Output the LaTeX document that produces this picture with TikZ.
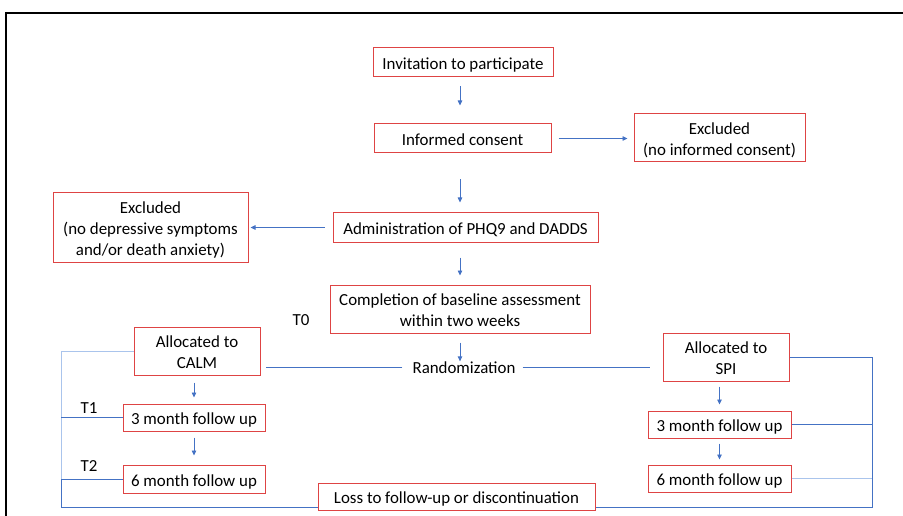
\documentclass[tikz,border=0pt]{standalone}
\usepackage{fontspec}
\setmainfont{Carlito}
\usetikzlibrary{arrows.meta}
\definecolor{boxred}{RGB}{222,68,68}
\definecolor{lnblue}{RGB}{68,114,196}
\definecolor{lnlight}{RGB}{170,196,236}
\newcommand\bx[1]{\raisebox{-3pt}[\height][\depth]{\begin{tabular}{@{}c@{}}#1\end{tabular}}}
\tikzset{
  box/.style={draw=boxred, line width=1pt, inner sep=0pt, font=\fontsize{16.9}{21}\selectfont},
  lbl/.style={inner sep=0pt, font=\fontsize{16.9}{21}\selectfont},
  arr/.style={draw=lnblue, line width=0.8pt, -{Triangle[length=5pt,width=4.5pt]}},
  blu/.style={draw=lnblue, line width=1pt},
  lblu/.style={draw=lnlight, line width=1pt}
}
\begin{document}
\begin{tikzpicture}[x=1pt,y=-1pt]
\useasboundingbox (0,0) rectangle (903,516);
\draw[line width=2pt] (6,13) -- (903,13);
\draw[line width=2pt] (6,12) -- (6,516);

\node[box, minimum width=180, minimum height=29] (inv) at (463,62.5) {\bx{Invitation to participate}};
\node[box, minimum width=177, minimum height=29] (ic) at (462.5,138.5) {\bx{Informed consent}};
\node[box, minimum width=171, minimum height=48] (exc1) at (719.5,138) {\bx{Excluded\\(no informed consent)}};
\node[box, minimum width=195, minimum height=69] (exc2) at (150.5,227.5) {\bx{Excluded\\(no depressive symptoms\\and/or death anxiety)}};
\node[box, minimum width=265, minimum height=29] (adm) at (465.5,227.5) {\bx{Administration of PHQ9 and DADDS}};
\node[box, minimum width=260, minimum height=48] (comp) at (460,309) {\bx{Completion of baseline assessment\\within two weeks}};
\node[lbl] (t0) at (301,320) {T0};
\node[box, minimum width=126, minimum height=48] (calm) at (197,351) {\bx{Allocated to\\CALM}};
\node[lbl] (rand) at (464,367.5) {Randomization};
\node[box, minimum width=126, minimum height=48] (spi) at (726,357) {\bx{Allocated to\\SPI}};
\node[box, minimum width=142, minimum height=27] (fu3a) at (194,417.5) {\bx{3 month follow up}};
\node[lbl] (t1) at (89,408) {T1};
\node[box, minimum width=142, minimum height=28] (fu6a) at (194,479) {\bx{6 month follow up}};
\node[lbl] (t2) at (89,466) {T2};
\node[box, minimum width=143, minimum height=27] (fu3b) at (719.5,424.5) {\bx{3 month follow up}};
\node[box, minimum width=143, minimum height=27] (fu6b) at (719.5,478.5) {\bx{6 month follow up}};
\node[box, minimum width=277, minimum height=27] (loss) at (456.5,496.5) {\bx{Loss to follow-up or discontinuation}};

\coordinate (lb) at (61,507);
\coordinate (rb) at (872,507);

\draw[arr, shorten <=9pt, shorten >=18pt] (inv.south -| comp) -- (ic.north -| comp);
\draw[arr, shorten <=26pt, shorten >=10pt] (ic.south -| comp) -- (adm.north -| comp);
\draw[arr, shorten <=7pt, shorten >=6pt] (ic.east) -- (ic.east -| exc1.west);
\draw[arr, shorten <=8pt, shorten >=2pt] (adm.west) -- (adm.west -| exc2.east);
\draw[arr, shorten <=15pt, shorten >=9pt] (adm.south -| comp) -- (comp.north);
\draw[arr, shorten <=9pt] (comp.south) -- (comp.south |- rand.north);
\draw[arr, shorten <=7pt, shorten >=6pt] (calm.south -| fu3a) -- (fu3a.north);
\draw[arr, shorten <=6pt, shorten >=9pt] (fu3a.south) -- (fu6a.north);
\draw[arr, shorten <=5pt, shorten >=6pt] (spi.south -| fu3b) -- (fu3b.north);
\draw[arr, shorten <=5pt, shorten >=5pt] (fu3b.south) -- (fu6b.north);

\draw[blu, shorten <=10pt, shorten >=5pt] (rand.west) -- (rand.west -| calm.east);
\draw[blu, shorten <=7pt, shorten >=13pt] (rand.east) -- (rand.east -| spi.west);

\draw[lblu] (calm.west) -- (calm.west -| lb) -- (fu6a.west -| lb);
\draw[blu] (fu3a.west) -- (fu3a.west -| lb);
\draw[blu] (fu6a.west) -- (fu6a.west -| lb) -- (lb) -- (lb -| loss.west);

\draw[blu] (spi.east) -- (spi.east -| rb) -- (rb) -- (rb -| loss.east);
\draw[blu] (fu3b.east) -- (fu3b.east -| rb);
\draw[lblu] (fu6b.east) -- (fu6b.east -| rb);
\end{tikzpicture}
\end{document}
